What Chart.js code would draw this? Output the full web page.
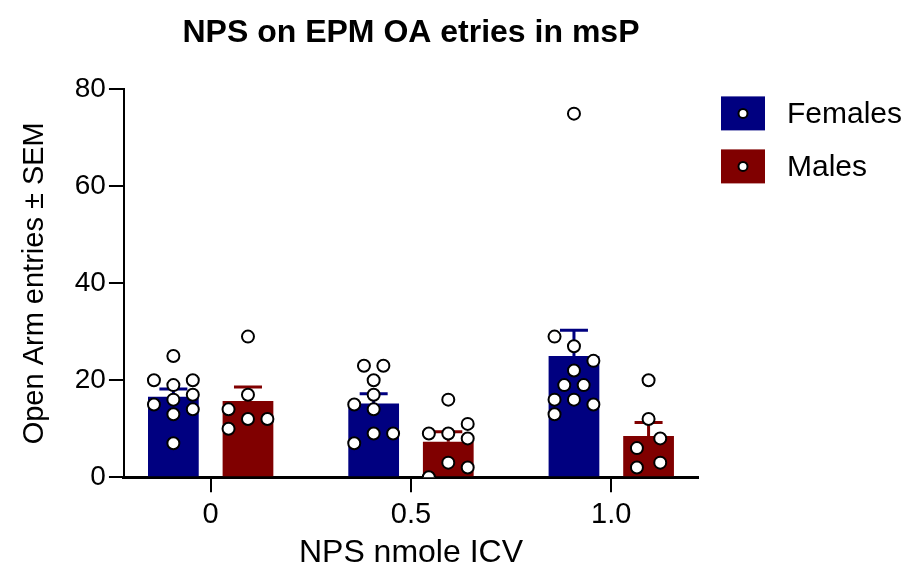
<!DOCTYPE html>
<html>
<head>
<meta charset="utf-8">
<script src="https://cdn.jsdelivr.net/npm/chart.js@4.4.0/dist/chart.umd.min.js"></script>
<style>
  html, body { margin: 0; padding: 0; background: #fff; }
  #wrap { width: 909px; height: 569px; }
</style>
</head>
<body>
<div id="wrap"><canvas id="chart"></canvas></div>
<script>
const doses = ['0', '0.5', '1.0'];
const femaleMean = [16.6, 15.2, 25.0];
const femaleSem = [1.6, 2.0, 5.3];
const maleMean = [15.7, 7.3, 8.5];
const maleSem = [2.9, 2.1, 2.8];

// single animals, one list per dose
const femalePoints = [
  [25, 20, 20, 19, 17, 16, 15, 14, 13, 7],
  [23, 23, 20, 17, 15, 14, 9, 9, 7],
  [75, 29, 27, 24, 22, 19, 19, 16, 16, 15, 13]
];
const malePoints = [
  [29, 17, 14, 12, 12, 10],
  [16, 11, 9, 9, 8, 3, 2, 0],
  [20, 12, 8, 6, 3, 2]
];

// sideways spread of the dots in each bar (layout only, in dot widths)
const femaleSpread = [
  [0, -1, 1, 0, 1, 0, -1, 1, 0, 0],
  [-0.5, 0.5, 0, 0, -1, 0, 0, 1, -1],
  [0, -1, 0, 1, 0, -0.5, 0.5, -1, 0, 1, -1]
];
const maleSpread = [
  [0, 0, -1, 0, 1, -1],
  [0, 1, -1, 0, 1, 0, 1, -1],
  [0, 0, 0.6, -0.6, 0.6, -0.6]
];

const NAVY = '#000080';
const MAROON = '#800000';
const GROUP_PCT = 0.745;
const BAR_PCT = 0.68;
const DOT_STEP = 0.097;
const FONT = "'Liberation Sans', Arial, sans-serif";

function dots(points, spread, side) {
  const out = [];
  points.forEach((vals, i) => {
    vals.forEach((v, j) => {
      out.push({ x: i + side * GROUP_PCT / 4 + spread[i][j] * DOT_STEP, y: v });
    });
  });
  return out;
}

// upward SEM whiskers, drawn right after each bar set
const semBars = {
  id: 'semBars',
  afterDatasetDraw(chart, args) {
    const ds = chart.data.datasets[args.index];
    if (!ds.sem) return;
    const ctx = chart.ctx;
    const y = chart.scales.y;
    ctx.save();
    ctx.strokeStyle = ds.backgroundColor;
    ctx.lineWidth = 3;
    args.meta.data.forEach((bar, i) => {
      const top = y.getPixelForValue(ds.data[i].y + ds.sem[i]);
      ctx.beginPath();
      ctx.moveTo(bar.x, bar.y);
      ctx.lineTo(bar.x, top);
      ctx.moveTo(bar.x - 14, top);
      ctx.lineTo(bar.x + 14, top);
      ctx.stroke();
    });
    ctx.restore();
  }
};

// legend: filled box with a small open dot, label to the right
const boxLegend = {
  id: 'boxLegend',
  afterDraw(chart) {
    const { ctx, chartArea } = chart;
    const bars = chart.data.datasets.filter(d => d.type === 'bar');
    ctx.save();
    bars.forEach((ds, k) => {
      const x = chartArea.right + 23;
      const y = chartArea.top + 7 + k * 53;
      ctx.fillStyle = ds.backgroundColor;
      ctx.fillRect(x, y, 44, 34);
      ctx.beginPath();
      ctx.arc(x + 22, y + 17, 4.5, 0, Math.PI * 2);
      ctx.fillStyle = '#fff';
      ctx.fill();
      ctx.lineWidth = 2;
      ctx.strokeStyle = '#000';
      ctx.stroke();
      ctx.fillStyle = '#000';
      ctx.font = '30px ' + FONT;
      ctx.textBaseline = 'middle';
      ctx.fillText(ds.label, x + 66, y + 18);
    });
    ctx.restore();
  }
};

const ctx = document.getElementById('chart').getContext('2d');
new Chart(ctx, {
  type: 'bar',
  data: {
    datasets: [
      {
        type: 'scatter', label: 'Females dots', order: 0,
        data: dots(femalePoints, femaleSpread, -1),
        pointRadius: 6, pointBorderWidth: 2,
        pointBackgroundColor: '#fff', pointBorderColor: '#000'
      },
      {
        type: 'scatter', label: 'Males dots', order: 0,
        data: dots(malePoints, maleSpread, 1),
        pointRadius: 6, pointBorderWidth: 2,
        pointBackgroundColor: '#fff', pointBorderColor: '#000'
      },
      {
        type: 'bar', label: 'Females', order: 1,
        data: femaleMean.map((m, i) => ({ x: i, y: m })),
        sem: femaleSem,
        backgroundColor: NAVY,
        categoryPercentage: GROUP_PCT, barPercentage: BAR_PCT
      },
      {
        type: 'bar', label: 'Males', order: 1,
        data: maleMean.map((m, i) => ({ x: i, y: m })),
        sem: maleSem,
        backgroundColor: MAROON,
        categoryPercentage: GROUP_PCT, barPercentage: BAR_PCT
      }
    ]
  },
  options: {
    responsive: true,
    maintainAspectRatio: false,
    animation: false,
    devicePixelRatio: 1,
    layout: { padding: { top: 10, left: 18, right: 211, bottom: 0 } },
    plugins: {
      legend: { display: false },
      tooltip: { enabled: false },
      title: {
        display: true,
        fullSize: false,
        text: 'NPS on EPM OA etries in msP',
        color: '#000',
        font: { family: FONT, size: 32, weight: 'bold' },
        padding: { top: 4, bottom: 37 }
      }
    },
    scales: {
      x: {
        type: 'linear',
        min: -0.433,
        max: 2.433,
        offset: false,
        afterBuildTicks: s => { s.ticks = doses.map((d, i) => ({ value: i })); },
        ticks: {
          callback: v => doses[v],
          color: '#000',
          font: { family: FONT, size: 29 },
          padding: 5,
          maxRotation: 0
        },
        grid: {
          offset: false,
          drawOnChartArea: false,
          tickLength: 15,
          tickColor: '#000',
          lineWidth: 2
        },
        border: { color: '#000', width: 3, dash: [4, 4] },
        title: {
          display: true,
          text: 'NPS nmole ICV',
          color: '#000',
          font: { family: FONT, size: 32, lineHeight: 1 },
          padding: { top: 0, bottom: 0 }
        }
      },
      y: {
        min: 0,
        max: 80,
        ticks: {
          stepSize: 20,
          color: '#000',
          font: { family: FONT, size: 28 },
          padding: 3
        },
        grid: {
          color: c => (c.tick && c.tick.value === 0 ? '#000' : 'rgba(0,0,0,0)'),
          tickColor: '#000',
          tickLength: 15,
          lineWidth: 2
        },
        border: { color: '#000', width: 2 },
        title: {
          display: true,
          text: 'Open Arm entries ± SEM',
          color: '#000',
          font: { family: FONT, size: 29 },
          padding: { top: 0, bottom: 19 }
        }
      }
    }
  },
  plugins: [semBars, boxLegend]
});
</script>
</body>
</html>
